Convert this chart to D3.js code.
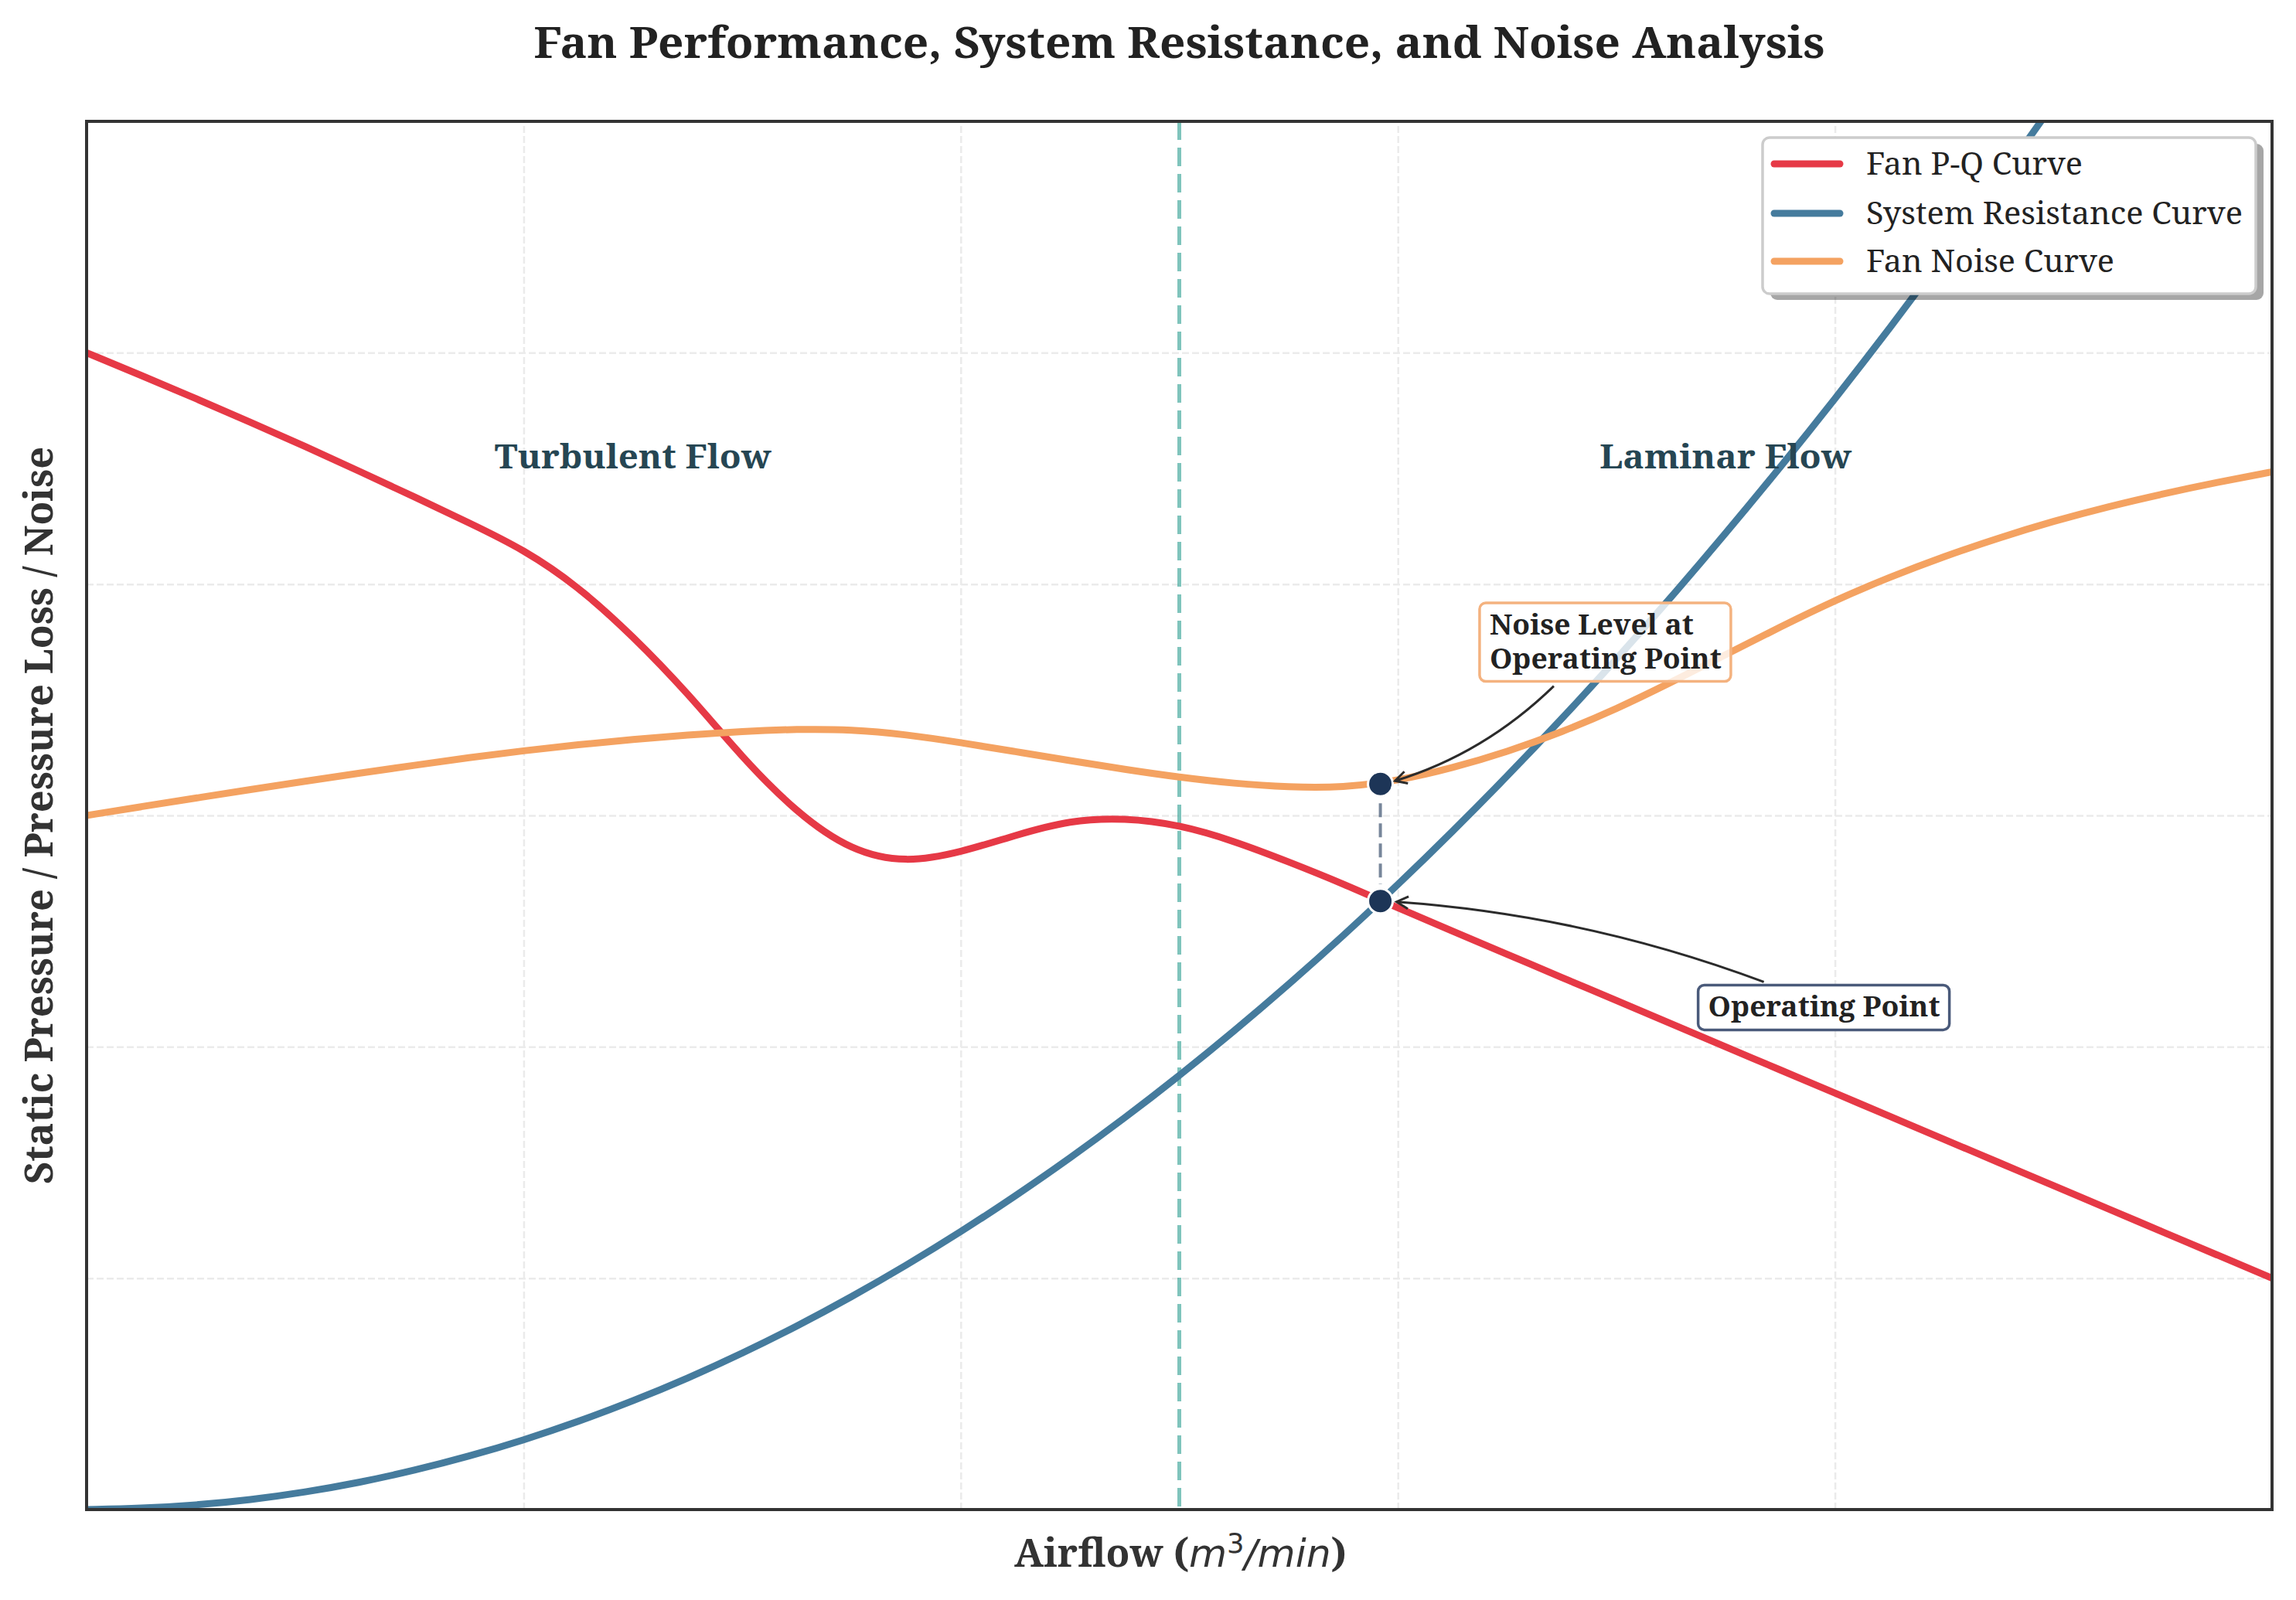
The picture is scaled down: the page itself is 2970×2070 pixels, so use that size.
<!DOCTYPE html>
<html><head><meta charset="utf-8">
<script src="https://cdn.jsdelivr.net/npm/d3@7"></script>
<style>body{margin:0;background:#fff} svg{display:block}</style>
</head><body>
<svg id="chart" width="2970" height="2070"></svg>
<script>
// ---------- data ----------
const airflow = [0,0.25,0.5,0.75,1,1.25,1.5,1.75,2,2.25,2.5,2.75,3,3.25,3.5,3.75,4,4.25,4.5,4.75,5,5.25,5.5,5.75,6,6.25,6.5,6.75,7,7.25,7.5,7.75,8,8.25,8.5,8.75,9,9.25,9.5,9.75,10];
const fanPressure = [50.0,49.02,48.02,47.0,45.95,44.87,43.77,42.65,41.5,39.9,37.75,35.3,32.5,30.1,28.45,27.95,28.4,29.15,29.8,29.9,29.6,28.9,28.0,27.05,26.0,25.0,24.0,23.0,22.0,21.0,20.0,19.0,18.0,17.0,16.0,15.0,14.0,13.0,12.0,11.0,10.0];
const systemResistance = [0,0.05,0.19,0.42,0.75,1.17,1.69,2.3,3.0,3.8,4.69,5.67,6.75,7.92,9.19,10.55,12.0,13.55,15.19,16.92,18.75,20.67,22.69,24.8,27.0,29.3,31.69,34.17,36.75,39.42,42.19,45.05,48.0,51.05,54.19,57.42,60.75,64.17,67.69,71.3,75.0];
const fanNoise = [30.0,30.38,30.75,31.12,31.48,31.83,32.17,32.5,32.8,33.06,33.29,33.48,33.64,33.73,33.72,33.5,33.15,32.76,32.37,31.99,31.65,31.38,31.22,31.2,31.5,32.05,32.75,33.6,34.6,35.75,36.95,38.15,39.3,40.3,41.2,42.0,42.72,43.35,43.9,44.4,44.85];
const seriesNames = ["Fan P-Q Curve","System Resistance Curve","Fan Noise Curve"];
const xTicks = [0,2,4,6,8,10];
const yTicks = [0,10,20,30,40,50,60];
const operatingPoint = {airflow:5.92, pressure:26.3, noise:31.36};
const transitionAirflow = 5;
const regionNames = ["Turbulent Flow","Laminar Flow"];
const regionAirflow = [2.5,7.5];
const regionLevel = 45.5;

// ---------- layout ----------
const W = 2970, H = 2070;
const L = 112, R = 2939, T = 157, B = 1953;
const colors = ["#e63946","#457b9d","#f4a261"];
const SERIF = "'Noto Serif','DejaVu Serif',serif";

const svg = d3.select("#chart");
svg.append("rect").attr("width",W).attr("height",H).attr("fill","#fff");

const x = d3.scaleLinear().domain([0,10]).range([L,R]);
const y = d3.scaleLinear().domain([0,60]).range([B,T]);

const defs = svg.append("defs");
defs.append("clipPath").attr("id","plotclip").append("rect")
  .attr("x",L).attr("y",T).attr("width",R-L).attr("height",B-T);

// grid via axes
const gx = svg.append("g").attr("transform",`translate(0,${B})`)
  .call(d3.axisBottom(x).tickValues(xTicks.slice(1,-1)).tickSize(-(B-T)).tickFormat(""));
const gy = svg.append("g").attr("transform",`translate(${L},0)`)
  .call(d3.axisLeft(y).tickValues(yTicks.slice(1,-1)).tickSize(-(R-L)).tickFormat(""));
[gx,gy].forEach(g=>{
  g.select(".domain").remove();
  g.selectAll(".tick line").attr("stroke","#ebebeb").attr("stroke-width",2.5).attr("stroke-dasharray","9,4");
});

const plot = svg.append("g").attr("clip-path","url(#plotclip)");

// transition line
plot.append("line").attr("x1",x(transitionAirflow)).attr("x2",x(transitionAirflow))
  .attr("y1",T).attr("y2",B).attr("stroke","#2a9d8f").attr("stroke-opacity",0.6)
  .attr("stroke-width",5).attr("stroke-dasharray","24,10");

const series = [fanPressure, systemResistance, fanNoise];
const line = d3.line().x((d,i)=>x(airflow[i])).y(d=>y(d)).curve(d3.curveBasis);
series.forEach((s,k)=>{
  plot.append("path").datum(s).attr("d",line).attr("fill","none")
    .attr("stroke",colors[k]).attr("stroke-width",9).attr("stroke-linejoin","round");
});

// region labels
regionNames.forEach((t,i)=>{
  svg.append("text").attr("x",x(regionAirflow[i])).attr("y",y(regionLevel)+15)
    .attr("text-anchor","middle").attr("font-family",SERIF).attr("font-weight","bold")
    .attr("font-size",44).attr("fill","#264653")
    .attr("textLength", i===0?358:326).attr("lengthAdjust","spacingAndGlyphs").text(t);
});

// operating point connector
const opX = x(operatingPoint.airflow), opY = y(operatingPoint.pressure), nzY = y(operatingPoint.noise);
plot.append("line").attr("x1",opX).attr("x2",opX).attr("y1",nzY+25).attr("y2",opY-22)
  .attr("stroke","#1d3557").attr("stroke-opacity",0.6).attr("stroke-width",4).attr("stroke-dasharray","18,8");
[opY,nzY].forEach(cy=>{
  svg.append("circle").attr("cx",opX).attr("cy",cy).attr("r",16)
    .attr("fill","#1d3557").attr("stroke","#fff").attr("stroke-width",3);
});

// arrows
function arrow(p0,c,p1){
  svg.append("path").attr("d",`M${p0[0]},${p0[1]} Q${c[0]},${c[1]} ${p1[0]},${p1[1]}`)
    .attr("fill","none").attr("stroke","#2b2b2b").attr("stroke-width",3);
  const dx=p1[0]-c[0], dy=p1[1]-c[1], len=Math.hypot(dx,dy), ux=dx/len, uy=dy/len;
  const hl=15, hw=8;
  const bx=p1[0]-ux*hl, by=p1[1]-uy*hl;
  svg.append("path").attr("d",`M${bx-uy*hw},${by+ux*hw} L${p1[0]},${p1[1]} L${bx+uy*hw},${by-ux*hw}`)
    .attr("fill","none").attr("stroke","#2b2b2b").attr("stroke-width",3).attr("stroke-linejoin","miter");
}

// annotation boxes
function annBox(lines, tx, tyBase, lineH, border, fillOpacity, widths){
  const g = svg.append("g");
  const rect = g.append("rect");
  lines.forEach((t,i)=>{
    g.append("text").attr("x",tx).attr("y",tyBase-(lines.length-1-i)*lineH)
      .attr("font-family",SERIF).attr("font-weight","bold").attr("font-size",36).attr("fill","#222")
      .attr("textLength",widths[i]).attr("lengthAdjust","spacingAndGlyphs").text(t);
  });
  const top = tyBase-(lines.length-1)*lineH-41, bottom = tyBase+17;
  const left = tx-13, right = tx+Math.max(...widths)+12;
  rect.attr("x",left).attr("y",top).attr("width",right-left).attr("height",bottom-top)
    .attr("rx",8).attr("fill","#fff").attr("fill-opacity",fillOpacity)
    .attr("stroke",border).attr("stroke-width",3.5);
  return {left,right,top,bottom};
}

const nb = annBox(["Noise Level at","Operating Point"], x(operatingPoint.airflow+0.5), y(operatingPoint.noise+5), 43.6, "#f4b27f", 0.8, [264,300]);
const ob = annBox(["Operating Point"], x(operatingPoint.airflow+1.5), y(operatingPoint.pressure-5), 0, "#4a5a7a", 1, [300]);

arrow([ob.left+85, ob.top-4], [2051,1184], [opX+21, opY+1]);
arrow([nb.left+96, nb.bottom+6], [1920,975], [opX+19, nzY-4]);

// frame
svg.append("rect").attr("x",L).attr("y",T).attr("width",R-L).attr("height",B-T)
  .attr("fill","none").attr("stroke","#333").attr("stroke-width",4);

// legend
const lg = svg.append("g");
lg.append("rect").attr("x",2290).attr("y",186).attr("width",638).attr("height",202).attr("rx",9)
  .attr("fill","#000").attr("fill-opacity",0.35);
lg.append("rect").attr("x",2280).attr("y",178).attr("width",638).attr("height",202).attr("rx",9)
  .attr("fill","#fff").attr("stroke","#cccccc").attr("stroke-width",3.5);
const legY = [212,276,338], legW = [280,487,321];
seriesNames.forEach((n,i)=>{
  lg.append("line").attr("x1",2295).attr("x2",2380).attr("y1",legY[i]).attr("y2",legY[i])
    .attr("stroke",colors[i]).attr("stroke-width",9).attr("stroke-linecap","round");
  lg.append("text").attr("x",2414).attr("y",legY[i]+14).attr("font-family",SERIF)
    .attr("font-size",40).attr("fill","#222").attr("textLength",legW[i]).attr("lengthAdjust","spacingAndGlyphs").text(n);
});

// title
svg.append("text").attr("x",(L+R)/2).attr("y",75).attr("text-anchor","middle")
  .attr("font-family",SERIF).attr("font-weight","bold").attr("font-size",57).attr("fill","#222")
  .attr("textLength",1670).attr("lengthAdjust","spacingAndGlyphs")
  .text("Fan Performance, System Resistance, and Noise Analysis");

// x label
const xl = svg.append("text").attr("x",1527).attr("y",2027).attr("text-anchor","middle")
  .attr("font-size",50).attr("fill","#333").attr("textLength",430).attr("lengthAdjust","spacingAndGlyphs");
xl.append("tspan").attr("font-family",SERIF).attr("font-weight","bold").text("Airflow (");
xl.append("tspan").attr("font-family","'DejaVu Sans',sans-serif").attr("font-style","italic").text("m");
xl.append("tspan").attr("font-family","'DejaVu Sans',sans-serif").attr("font-size",35).attr("dy",-18).text("3");
xl.append("tspan").attr("font-family","'DejaVu Sans',sans-serif").attr("font-style","italic").attr("dy",18).text("/min");
xl.append("tspan").attr("font-family",SERIF).attr("font-weight","bold").text(")");

// y label
svg.append("text").attr("transform","translate(68,1055) rotate(-90)").attr("text-anchor","middle")
  .attr("font-family",SERIF).attr("font-weight","bold").attr("font-size",50).attr("fill","#333")
  .attr("textLength",954).attr("lengthAdjust","spacingAndGlyphs")
  .text("Static Pressure / Pressure Loss / Noise");
</script>
</body></html>
